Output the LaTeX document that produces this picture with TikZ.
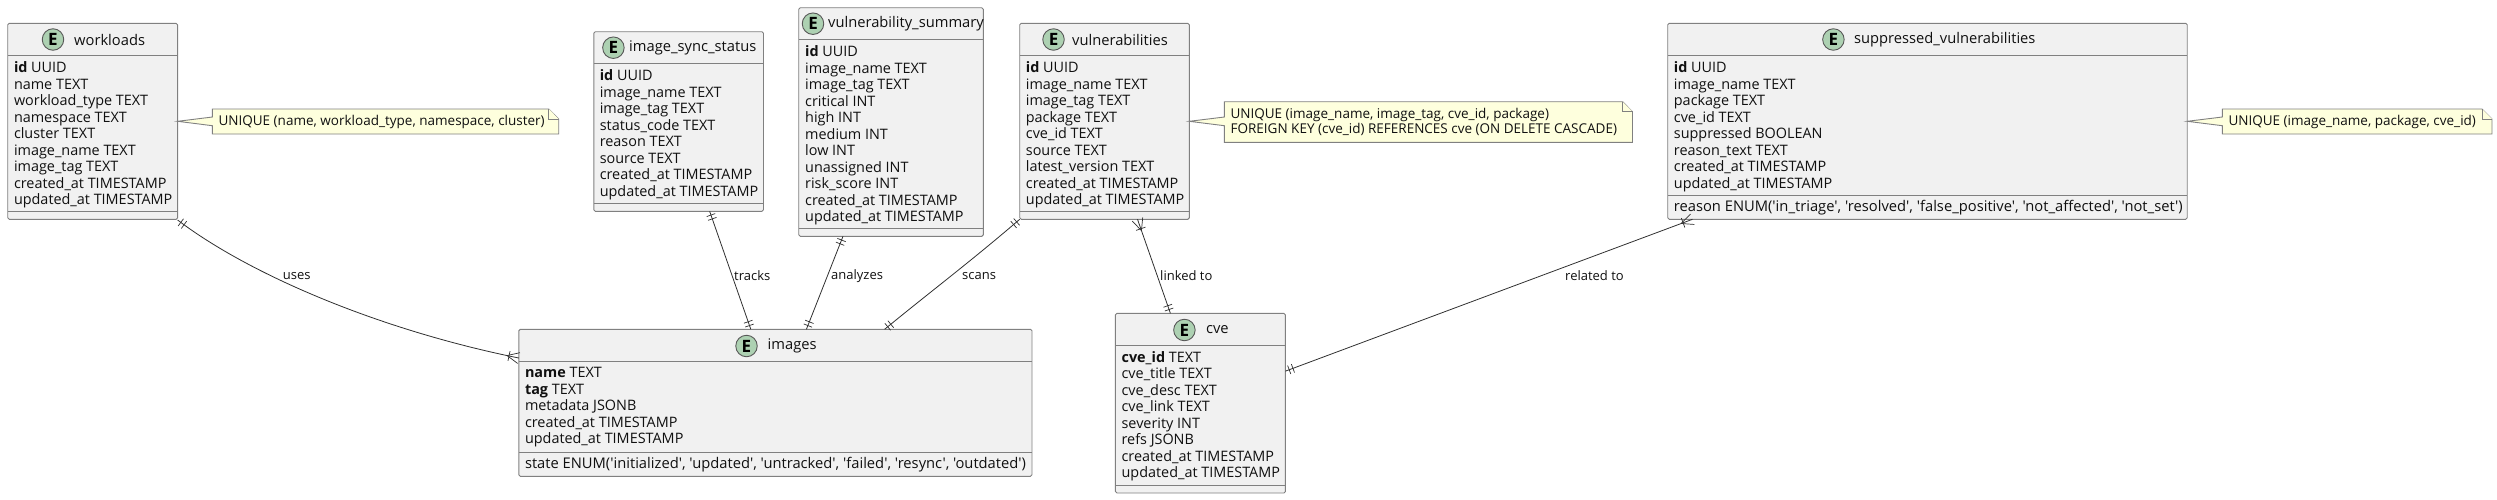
\documentclass[tikz,border=0pt]{standalone}
\usepackage{fontspec}
\usetikzlibrary{decorations.markings}
\setmainfont{Open Sans}[Ligatures=TeXOff]
\definecolor{boxfill}{HTML}{F1F1F1}
\definecolor{boxline}{HTML}{808080}
\definecolor{notefill}{HTML}{FEFFDD}
\definecolor{iconfill}{HTML}{ADD1B2}
\definecolor{ink}{HTML}{101010}
\definecolor{edge}{HTML}{303030}
\newcommand{\bodyfont}{\fontsize{14.4pt}{16.5pt}\selectfont}
\newcommand{\titlefont}{\fontsize{14.7pt}{16.5pt}\selectfont}
\newcommand{\extrafont}{\fontsize{14.72pt}{16.5pt}\selectfont}
\newcommand{\smallfont}{\fontsize{13.5pt}{15.2pt}\selectfont}
\newcommand{\labelfont}{\fontsize{13pt}{15.2pt}\selectfont}
\newcommand{\q}{\symbol{39}}
\tikzset{
  box/.style={draw=boxline,fill=boxfill,line width=.9pt,rounded corners=1.5pt,inner sep=0pt,outer sep=0pt},
  sepline/.style={draw=boxline,line width=.9pt},
  icon/.style={circle,draw=ink!70,line width=.9pt,fill=iconfill,minimum size=21.5pt,inner sep=0pt,text=black,font=\fontsize{17pt}{17pt}\selectfont\bfseries},
  ttl/.style={anchor=west,inner sep=0pt,text=ink,font=\titlefont},
  extra/.style={anchor=west,inner sep=0pt,text=ink,font=\extrafont},
  members/.style={anchor=north west,inner sep=0pt,align=left,text=ink,font=\bodyfont},
  notebox/.style={draw=boxline,fill=notefill,line width=.9pt,line join=miter},
  notetext/.style={anchor=west,inner sep=0pt,align=left,text=ink,font=\smallfont},
  lbl/.style={anchor=west,inner sep=0pt,text=ink,font=\labelfont},
  link/.style={draw=edge,line width=.8pt},
  tick/.style={draw=edge,line width=.7pt},
  onestart/.style={postaction={decorate,decoration={markings,
     mark=at position 4pt with {\draw[tick] (0pt,-4.5pt)--(0pt,4.5pt);},
     mark=at position 8pt with {\draw[tick] (0pt,-4.5pt)--(0pt,4.5pt);}}}},
  oneend/.style={postaction={decorate,decoration={markings,
     mark=at position -8pt with {\draw[tick] (0pt,-4.5pt)--(0pt,4.5pt);},
     mark=at position -4pt with {\draw[tick] (0pt,-4.5pt)--(0pt,4.5pt);}}}},
  manystart/.style={postaction={decorate,decoration={markings,
     mark=at position 10pt with {\draw[tick] (0pt,-5pt)--(0pt,5pt);
        \draw[tick] (2pt,0pt)--(-10pt,-5.5pt); \draw[tick] (2pt,0pt)--(-10pt,5.5pt);}}}},
  manyend/.style={postaction={decorate,decoration={markings,
     mark=at position -10pt with {\draw[tick] (0pt,-5pt)--(0pt,5pt);
        \draw[tick] (-2pt,0pt)--(10pt,-5.5pt); \draw[tick] (-2pt,0pt)--(10pt,5.5pt);}}}},
}
% name, x1,y1,x2,y2, yhead, ydiv
\newcommand{\entitybox}[7]{%
  \node[box,minimum width=\dimexpr #4pt-#2pt\relax,minimum height=\dimexpr #5pt-#3pt\relax] (#1) at ({(#2+#4)/2},{(#3+#5)/2}) {};
  \draw[sepline] (#2,#6)--(#4,#6);
  \draw[sepline] (#2,#7)--(#4,#7);
}
% name, cx, titleleft, y, title
\newcommand{\entityhead}[5]{%
  \node[icon] (#1icon) at (#2,#4) {E};
  \node[ttl] (#1title) at (#3,#4) {#5};
}
\newcommand{\bt}[1]{\textbf{#1}}
\begin{document}
\begin{tikzpicture}[x=1pt,y=-1pt]
\useasboundingbox (0,0) rectangle (2497,499);
% workloads
\entitybox{wl}{7.7}{23.3}{177.6}{219.3}{55.5}{211}
\entityhead{wl}{53}{74}{39.5}{workloads}
\node[members] (wlm) at (13.8,61.5) {\bt{id} UUID\\name TEXT\\workload\_type TEXT\\namespace TEXT\\cluster TEXT\\image\_name TEXT\\image\_tag TEXT\\created\_at TIMESTAMP\\updated\_at TIMESTAMP};
% image_sync_status
\entitybox{iss}{593.8}{31.7}{763.5}{211.3}{63.3}{203.3}
\entityhead{iss}{613.4}{629}{47.7}{image\_sync\_status}
\node[members] (issm) at (599.6,69.5) {\bt{id} UUID\\image\_name TEXT\\image\_tag TEXT\\status\_code TEXT\\reason TEXT\\source TEXT\\created\_at TIMESTAMP\\updated\_at TIMESTAMP};
% vulnerability_summary
\entitybox{vs}{798.7}{7.7}{983.3}{236.3}{39.3}{228.3}
\entityhead{vs}{813}{828}{23.7}{vulnerability\_summary}
\node[members] (vsm) at (805,45.5) {\bt{id} UUID\\image\_name TEXT\\image\_tag TEXT\\critical INT\\high INT\\medium INT\\low INT\\unassigned INT\\risk\_score INT\\created\_at TIMESTAMP\\updated\_at TIMESTAMP};
% vulnerabilities
\entitybox{vu}{1019.7}{23.3}{1189.3}{219.3}{55.5}{211}
\entityhead{vu}{1053.5}{1072}{39.5}{vulnerabilities}
\node[members] (vum) at (1025.7,61.5) {\bt{id} UUID\\image\_name TEXT\\image\_tag TEXT\\package TEXT\\cve\_id TEXT\\source TEXT\\latest\_version TEXT\\created\_at TIMESTAMP\\updated\_at TIMESTAMP};
% suppressed
\entitybox{sv}{1667.7}{23.3}{2187.2}{219.3}{55.5}{195.3}
\entityhead{sv}{1833.4}{1853.8}{39.5}{suppressed\_vulnerabilities}
\node[members] (svm) at (1673.7,61.5) {\bt{id} UUID\\image\_name TEXT\\package TEXT\\cve\_id TEXT\\suppressed BOOLEAN\\reason\_text TEXT\\created\_at TIMESTAMP\\updated\_at TIMESTAMP};
\node[extra] (svx) at (1673.7,208) {reason ENUM(\q in\_triage\q, \q resolved\q, \q false\_positive\q, \q not\_affected\q, \q not\_set\q)};
% images
\entitybox{im}{518.8}{329.3}{1032}{476.3}{361.3}{452.3}
\entityhead{im}{746.5}{767.5}{346}{images}
\node[members] (imm) at (524.8,367.5) {\bt{name} TEXT\\\bt{tag} TEXT\\metadata JSONB\\created\_at TIMESTAMP\\updated\_at TIMESTAMP};
\node[extra] (imx) at (524.8,465) {state ENUM(\q initialized\q, \q updated\q, \q untracked\q, \q failed\q, \q resync\q, \q outdated\q)};
% cve
\entitybox{cv}{1115.4}{313.3}{1285.4}{493}{345.3}{485.3}
\entityhead{cv}{1184.4}{1205.8}{330}{cve}
\node[members] (cvm) at (1121.4,351.2) {\bt{cve\_id} TEXT\\cve\_title TEXT\\cve\_desc TEXT\\cve\_link TEXT\\severity INT\\refs JSONB\\created\_at TIMESTAMP\\updated\_at TIMESTAMP};
% notes
\draw[notebox] (212.4,109)--(548.8,109)--(558.7,119)--(558.7,134)--(212.4,134)--(212.4,125.7)--(wl.east)--(212.4,117)--cycle;
\draw[notebox] (548.8,109)--(548.8,119)--(558.7,119);
\node[notetext] (n1) at (218.4,121.5) {UNIQUE (name, workload\_type, namespace, cluster)};
\draw[notebox] (1224.4,101.7)--(1622.6,101.7)--(1632.5,111.7)--(1632.5,142.3)--(1224.4,142.3)--(1224.4,125.7)--(vu.east)--(1224.4,117)--cycle;
\draw[notebox] (1622.6,101.7)--(1622.6,111.7)--(1632.5,111.7);
\node[notetext] (n2) at (1230.4,122) {UNIQUE (image\_name, image\_tag, cve\_id, package)\\FOREIGN KEY (cve\_id) REFERENCES cve (ON DELETE CASCADE)};
\draw[notebox] (2222.3,109)--(2482,109)--(2492,119)--(2492,134)--(2222.3,134)--(2222.3,125.7)--(sv.east)--(2222.3,117)--cycle;
\draw[notebox] (2482,109)--(2482,119)--(2492,119);
\node[notetext] (n3) at (2228.3,121.5) {UNIQUE (image\_name, package, cve\_id)};
% connectors
\draw[link,onestart,manyend] ([yshift=-.7pt]wl.south east) .. controls (250,275) and (380,330) .. ([yshift=44.8pt]im.west);
\draw[link,onestart,oneend] ([xshift=31pt]iss.south) -- ([xshift=-24.6pt]im.north);
\draw[link,onestart,oneend] ([xshift=-48pt]vs.south) -- ([xshift=31pt]im.north);
\draw[link,onestart,oneend] (vu.south west) .. controls (970,262) and (930,292) .. ([xshift=109.2pt]im.north);
\draw[link,manystart,oneend] ([xshift=33pt]vu.south) -- ([xshift=-30pt]cv.north);
\draw[link,manystart,oneend] ([xshift=-235pt]sv.south) -- ([yshift=32pt]cv.east);
% labels
\node[lbl] (l1) at (282.7,276) {uses};
\node[lbl] (l2) at (734,275.7) {tracks};
\node[lbl] (l3) at (831,275.7) {analyzes};
\node[lbl] (l4) at (962,275.7) {scans};
\node[lbl] (l5) at (1160,275.7) {linked to};
\node[lbl] (l6) at (1565,275.7) {related to};
\end{tikzpicture}
\end{document}
